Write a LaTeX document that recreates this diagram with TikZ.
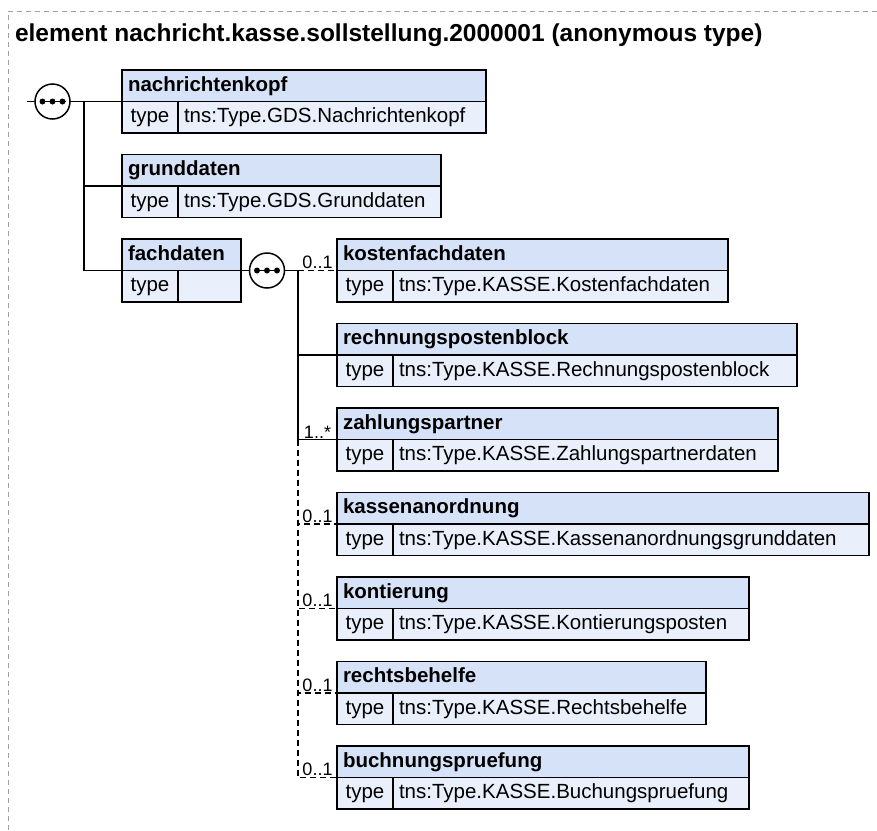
\documentclass[tikz,border=0pt]{standalone}
\usepackage{fontspec}
\setmainfont{Liberation Sans}
\usetikzlibrary{positioning}
\definecolor{hdc}{RGB}{214,226,247}
\definecolor{tyc}{RGB}{234,240,251}
\definecolor{brd}{RGB}{160,160,160}
\begin{document}
\begin{tikzpicture}[x=1pt,y=-1pt,line width=1.8pt,
every node/.style={outer sep=0pt,font=\fontsize{20.5}{24}\selectfont},
hd/.style={draw,fill=hdc,font=\fontsize{20.5}{24}\selectfont\bfseries,anchor=north west,minimum height=31.5pt,inner xsep=6pt,inner ysep=0pt,text height=15pt,text depth=4.5pt,text width=#1pt,align=left},
ty/.style={draw,fill=tyc,minimum width=56pt,minimum height=31.5pt,inner sep=0pt,text height=15pt,text depth=4.5pt},
tv/.style={draw,fill=tyc,minimum height=31.5pt,inner xsep=6pt,inner ysep=0pt,text height=15pt,text depth=4.5pt,text width=#1pt,align=left},
seq/.style={circle,draw,fill=white,line width=1.5pt,minimum size=35pt,inner sep=0pt},
mult/.style={above,inner sep=1.5pt,font=\fontsize{18}{18}\selectfont},
opt/.style={dash pattern=on 6pt off 4pt},
bord/.style={draw=brd,line width=.8pt,dash pattern=on 5pt off 4pt}]
\useasboundingbox(0,0)rectangle(877,830);
\draw[bord](877,11)-|(8,830);
\node[anchor=base west,inner sep=0pt,font=\fontsize{24.5}{28}\selectfont\bfseries](ttl) at (15,41.7){element nachricht.kasse.sollstellung.2000001 (anonymous type)};
\node[hd=352](nk) at (122,70){nachrichtenkopf};
\node[ty,below right=0pt and 0pt of nk.south west](nkt){type};\node[tv=296,right=0pt of nkt](nkv){tns:Type.GDS.Nachrichtenkopf};
\node[hd=307](gd) at (122,154.5){grunddaten};
\node[ty,below right=0pt and 0pt of gd.south west](gdt){type};\node[tv=251,right=0pt of gdt](gdv){tns:Type.GDS.Grunddaten};
\node[hd=107](fd) at (122,239){fachdaten};
\node[ty,below right=0pt and 0pt of fd.south west](fdt){type};\node[tv=51,right=0pt of fdt](fdv){};
\node[hd=379](kf) at (337,239){kostenfachdaten};
\node[ty,below right=0pt and 0pt of kf.south west](kft){type};\node[tv=323,right=0pt of kft](kfv){tns:Type.KASSE.Kostenfachdaten};
\node[hd=448](rp) at (337,323.5){rechnungspostenblock};
\node[ty,below right=0pt and 0pt of rp.south west](rpt){type};\node[tv=392,right=0pt of rpt](rpv){tns:Type.KASSE.Rechnungspostenblock};
\node[hd=429](zp) at (337,408){zahlungspartner};
\node[ty,below right=0pt and 0pt of zp.south west](zpt){type};\node[tv=373,right=0pt of zpt](zpv){tns:Type.KASSE.Zahlungspartnerdaten};
\node[hd=520](ka) at (337,492.5){kassenanordnung};
\node[ty,below right=0pt and 0pt of ka.south west](kat){type};\node[tv=464,right=0pt of kat](kav){tns:Type.KASSE.Kassenanordnungsgrunddaten};
\node[hd=400](ko) at (337,577){kontierung};
\node[ty,below right=0pt and 0pt of ko.south west](kot){type};\node[tv=344,right=0pt of kot](kov){tns:Type.KASSE.Kontierungsposten};
\node[hd=357](rb) at (337,661.5){rechtsbehelfe};
\node[ty,below right=0pt and 0pt of rb.south west](rbt){type};\node[tv=301,right=0pt of rbt](rbv){tns:Type.KASSE.Rechtsbehelfe};
\node[hd=400](bp) at (337,746){buchnungspruefung};
\node[ty,below right=0pt and 0pt of bp.south west](bpt){type};\node[tv=344,right=0pt of bpt](bpv){tns:Type.KASSE.Buchungspruefung};
\node[seq](s1) at (52.5,101.5){};\node[seq](s2) at (267,270.5){};
\foreach \s in {s1,s2}{\draw[line width=1.2pt]([xshift=-13pt]\s.center)--([xshift=13pt]\s.center);
\foreach \d in {-10,0,10}\fill([xshift=\d pt]\s.center)circle(3pt);}
\coordinate(in) at (27,101.5);\coordinate(j1) at (84,101.5);
\coordinate(j2) at (298,270.5);\coordinate(j3) at (298,439.5);
\draw(in)--(s1);\draw(s1)--(nk.south west);
\draw(j1)|-(gd.south west);\draw(j1)|-(fd.south west);
\draw(fd.south east)--(s2);\draw(s2)--(j2);
\draw[opt](j2)--node[mult]{0..1}(kf.south west);
\draw(j2)|-(rp.south west);\draw(j2)|-node[mult,pos=.75]{1..*}(zp.south west);
\draw[opt](j3)|-node[mult,pos=.75]{0..1}(ka.south west);
\draw[opt](j3)|-node[mult,pos=.75]{0..1}(ko.south west);
\draw[opt](j3)|-node[mult,pos=.75]{0..1}(rb.south west);
\draw[opt](j3)|-node[mult,pos=.75]{0..1}(bp.south west);
\end{tikzpicture}
\end{document}
